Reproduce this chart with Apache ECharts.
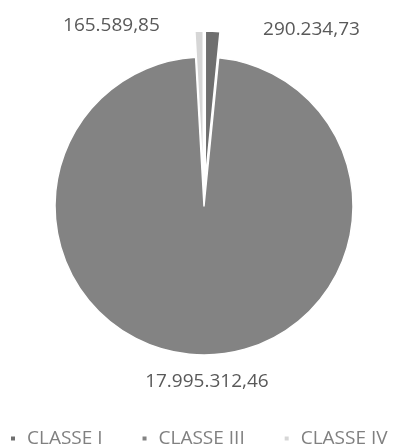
<!DOCTYPE html>
<html>
<head>
<meta charset="utf-8">
<script src="https://cdn.jsdelivr.net/npm/echarts@6/dist/echarts.min.js"></script>
<style>html,body{margin:0;padding:0;background:#fff;}#c{width:406px;height:447px;}</style>
</head>
<body>
<div id="c"></div>
<script>
var categories = ['CLASSE I', 'CLASSE III', 'CLASSE IV'];
var values = [290234.73, 17995312.46, 165589.85];
var colors = ['#6f6f6f', '#838383', '#d6d6d6'];
var exploded = [true, false, true];

function fmtBR(v) {
  var parts = v.toFixed(2).split('.');
  var intPart = parts[0].replace(/\B(?=(\d{3})+(?!\d))/g, '.');
  return intPart + ',' + parts[1];
}

var CX = 204, CY = 206, R = 149;
// label nudges from the default outside position (layout only)
var labelNudge = [[25, 6], [93, 19], [-14, 3]];

var chart = echarts.init(document.getElementById('c'), null, {renderer: 'canvas'});
chart.setOption({
  animation: false,
  color: colors,
  legend: {
    top: 424,
    left: 4,
    itemWidth: 6,
    itemHeight: 6,
    itemGap: 38,
    icon: 'rect',
    textStyle: {fontFamily: 'Open Sans', fontSize: 19, color: '#808080', padding: [0, 0, 0, 6]},
    data: categories
  },
  series: [{
    type: 'pie',
    center: [CX, CY],
    radius: R,
    startAngle: 90,
    clockwise: true,
    selectedMode: 'multiple',
    selectedOffset: 26,
    avoidLabelOverlap: false,
    itemStyle: {borderColor: '#fff', borderWidth: 1.5},
    label: {
      show: true,
      position: 'outside',
      fontFamily: 'Open Sans',
      fontSize: 19,
      color: '#595959',
      formatter: function (p) { return fmtBR(p.value); }
    },
    labelLine: {show: false, length: 8, length2: 20},
    labelLayout: function (params) {
      var a = labelNudge[params.dataIndex];
      return {dx: a[0], dy: a[1]};
    },
    emphasis: {disabled: true},
    data: categories.map(function (c, i) {
      return {name: c, value: values[i], selected: exploded[i]};
    })
  }]
});
</script>
</body>
</html>
